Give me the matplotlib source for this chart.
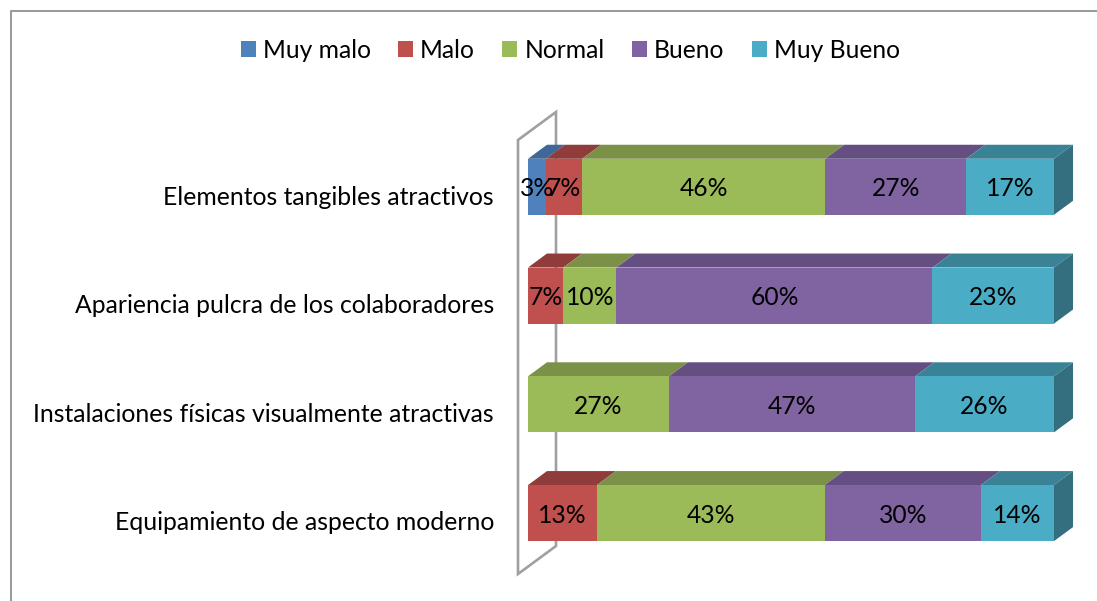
import numpy as np
import matplotlib
matplotlib.use("Agg")
import matplotlib.pyplot as plt
from matplotlib.lines import Line2D
from matplotlib.patches import Polygon

plt.rcParams['font.family'] = ['Lato', 'DejaVu Sans']

W, H = 1097, 601
categories = ["Elementos tangibles atractivos",
              "Apariencia pulcra de los colaboradores",
              "Instalaciones físicas visualmente atractivas",
              "Equipamiento de aspecto moderno"]
series = ["Muy malo", "Malo", "Normal", "Bueno", "Muy Bueno"]
muy_malo = [3.4, 0, 0, 0]
malo = [6.9, 6.7, 0, 13.1]
normal = [46.2, 10.1, 26.8, 43.3]
bueno = [26.8, 60.1, 46.8, 29.7]
muy_bueno = [16.7, 23.1, 26.4, 13.9]
values = [muy_malo, malo, normal, bueno, muy_bueno]
front = ["#4F81BD", "#C0504D", "#9BBB59", "#8064A2", "#4BACC6"]
top = ["#3F6797", "#8F3C3A", "#7A9147", "#654F82", "#3A8296"]
side_last = "#336F7E"
wall_col = "#A0A0A0"
FS = 17.7

fig = plt.figure(figsize=(W / 100, H / 100), dpi=100)
ax = fig.add_axes([518 / W, 1 - 574 / H, (1054 - 518) / W, (574 - 140) / H])
ax.set_xlim(-1.9, 100)
ax.set_ylim(3.56, -0.43)
for s in ax.spines.values():
    s.set_visible(False)
ax.set_xticks([])

y = np.arange(len(categories))
ax.set_yticks(y + 0.083 - 0.006 * y)
ax.set_yticklabels(categories, fontsize=17.85, color="black")
ax.tick_params(axis='y', length=0, pad=17.3)

bar_h = 0.515
dx = 19 / 5.26
dy = 14 / 108.67

# side wall of the 3D box
wall = Polygon([(-1.9, 3.56), (-1.9, -0.43), (-1.9 + 2 * dx, -0.43 - 2 * dy),
                (-1.9 + 2 * dx, 3.56 - 2 * dy)], closed=True, fill=False,
               edgecolor=wall_col, linewidth=1.9, clip_on=False, zorder=1)
ax.add_patch(wall)

left = np.zeros(len(categories))
handles = []
for i, (name, vals) in enumerate(zip(series, values)):
    vals = np.array(vals, dtype=float)
    bars = ax.barh(y, vals, left=left, height=bar_h, color=front[i], zorder=3,
                   linewidth=0, label=name)
    handles.append(bars)
    for j, v in enumerate(vals):
        if v <= 0:
            continue
        t = y[j] - bar_h / 2
        ax.add_patch(Polygon([(left[j], t), (left[j] + v, t),
                              (left[j] + v + dx, t - dy), (left[j] + dx, t - dy)],
                             closed=True, facecolor=top[i], edgecolor='none',
                             zorder=2, clip_on=False))
        ax.text(left[j] + v / 2, y[j] + 0.02, f"{v:.0f}%", ha='center', va='center',
                fontsize=FS, color='black', zorder=5)
    left = left + vals

for j in range(len(categories)):
    r = left[j]
    t, b = y[j] - bar_h / 2, y[j] + bar_h / 2
    ax.add_patch(Polygon([(r, t), (r + dx, t - dy), (r + dx, b - dy), (r, b)],
                         closed=True, facecolor=side_last, edgecolor='none',
                         zorder=2, clip_on=False))

leg = fig.legend(handles=handles, labels=series, ncol=5, loc='center',
                 bbox_to_anchor=(570.3 / W, 1 - 50.5 / H), frameon=False, fontsize=FS,
                 handlelength=0.61, handleheight=0.61, handletextpad=0.28,
                 columnspacing=1.12, borderpad=0, borderaxespad=0)

# chart frame (top and left edges are inside the crop)
fig.add_artist(Line2D([10.5 / W, 10.5 / W, 1], [0, 1 - 10.5 / H, 1 - 10.5 / H],
                      transform=fig.transFigure, color="#989898", linewidth=1.4))

fig.savefig("out.png", dpi=100, facecolor="white")
